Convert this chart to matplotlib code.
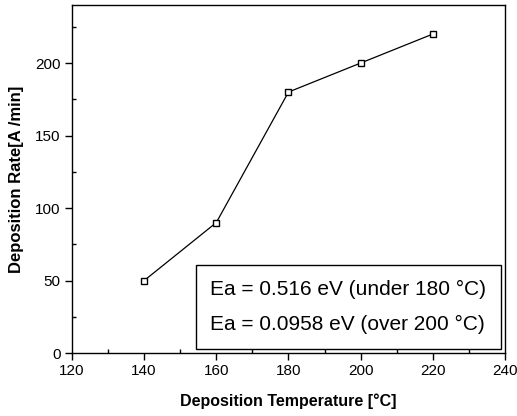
import matplotlib.pyplot as plt
from matplotlib.lines import Line2D

plt.rcParams['font.family'] = ['Liberation Sans', 'DejaVu Sans']

temperature = [140, 160, 180, 200, 220]
rate = [50, 90, 180, 200, 220]
notes = ['Ea = 0.516 eV (under 180 \u00b0C)', 'Ea = 0.0958 eV (over 200 \u00b0C)']

fig = plt.figure(figsize=(5.17, 4.16), dpi=100)
ax = fig.add_axes([0.139, 0.151, 0.838, 0.837])

ax.plot(temperature, rate, color='black', lw=0.9, marker='s', markersize=5,
        markerfacecolor='white', markeredgecolor='black', markeredgewidth=1.0)

ax.set_xlim(120, 240)
ax.set_ylim(0, 240)
ax.set_xticks([120, 140, 160, 180, 200, 220, 240])
ax.set_yticks([0, 50, 100, 150, 200])
ax.set_xticks(range(130, 240, 20), minor=True)
ax.set_yticks([25, 75, 125, 175, 225], minor=True)
ax.tick_params(which='major', direction='out', length=5, width=1, labelsize=11, pad=3)
ax.tick_params(which='minor', direction='in', length=3, width=1)
for s in ax.spines.values():
    s.set_linewidth(1.0)

ax.set_xlabel('Deposition Temperature [\u00b0C]', fontsize=11.5, fontweight='bold', labelpad=11)
ax.set_ylabel('Deposition Rate[A /min]', fontsize=12, fontweight='bold', labelpad=8)

handles = [Line2D([], [], linestyle='none') for _ in notes]
leg = ax.legend(handles, notes, loc='lower right', handlelength=0, handletextpad=0,
                fontsize=15, frameon=True, fancybox=False, edgecolor='black',
                framealpha=1, borderaxespad=0.2, labelspacing=0.8,
                borderpad=0.7)
leg.get_frame().set_linewidth(1.0)

fig.savefig('out.png', dpi=100)
